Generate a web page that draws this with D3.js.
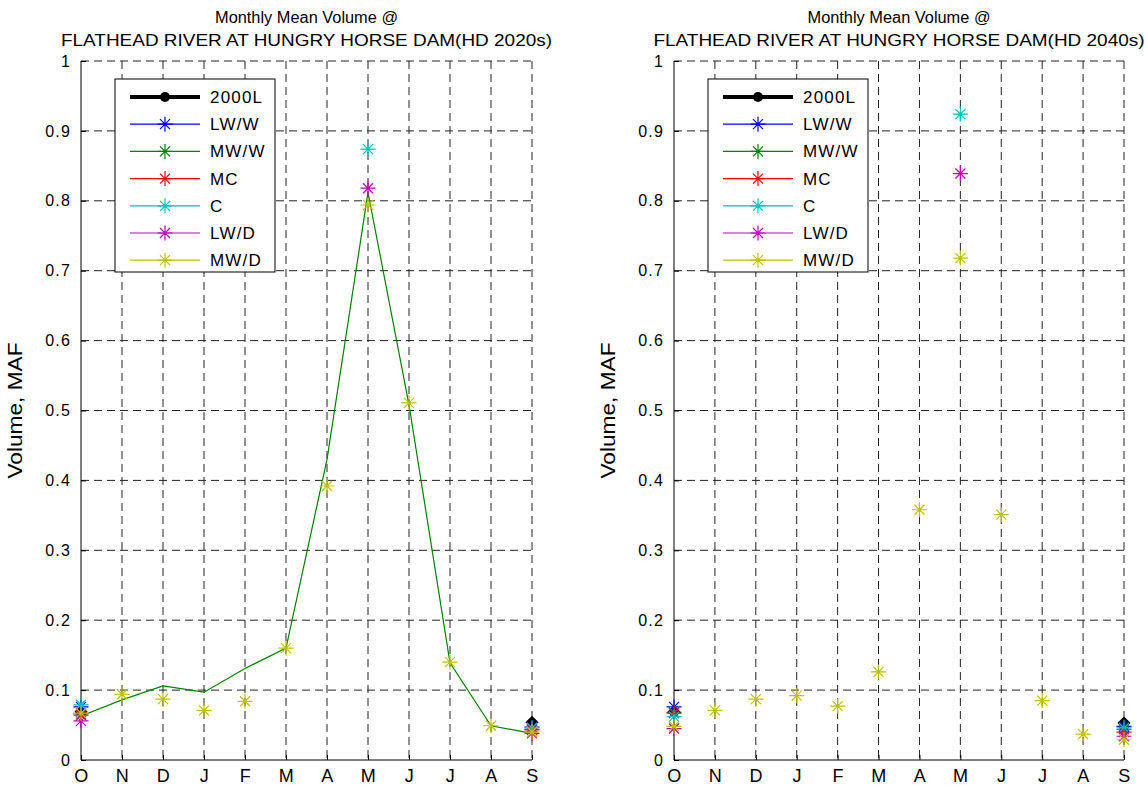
<!DOCTYPE html>
<html>
<head>
<meta charset="utf-8">
<script src="https://cdn.jsdelivr.net/npm/d3@7"></script>
<style>
  html, body { margin: 0; padding: 0; background: #fff; }
  svg { display: block; font-family: "Liberation Sans", Arial, sans-serif; }
</style>
</head>
<body>
<svg id="chart" width="1146" height="786"></svg>
<script>
// ---------------- DATA ----------------
const months = ["O","N","D","J","F","M","A","M","J","J","A","S"];
const seriesNames = ["2000L","LW/W","MW/W","MC","C","LW/D","MW/D"];
const seriesColors = ["#000000","#0000ff","#008000","#ff0000","#00bfbf","#bf00bf","#bfbf00"];
const yTicks = [0,0.1,0.2,0.3,0.4,0.5,0.6,0.7,0.8,0.9,1];

const titles2020 = ["Monthly Mean Volume @", "FLATHEAD RIVER AT HUNGRY HORSE DAM(HD 2020s)"];
const titles2040 = ["Monthly Mean Volume @", "FLATHEAD RIVER AT HUNGRY HORSE DAM(HD 2040s)"];

// HD 2020s (null = not plotted)
const base2020 = [0.069,null,null,null,null,null,null,null,null,null,null,0.054];
const lww2020  = [0.076,null,null,null,null,null,null,null,null,null,null,0.047];
const mww2020  = [0.066,null,null,null,null,null,null,null,null,null,null,0.044];
const mc2020   = [0.064,null,null,null,null,null,null,null,null,null,null,0.043];
const c2020    = [0.079,null,null,null,null,null,null,0.874,null,null,null,0.046];
const lwd2020  = [0.056,null,null,null,null,null,null,0.818,null,null,null,0.038];
const mwd2020  = [0.067,0.094,0.087,0.071,0.084,0.160,0.392,0.794,0.511,0.140,0.049,0.040];
const mwwLine2020 = [0.063,0.086,0.106,0.097,0.131,0.160,0.430,0.812,0.508,0.139,0.049,0.038];

// HD 2040s
const base2040 = [0.069,null,null,null,null,null,null,null,null,null,null,0.053];
const lww2040  = [0.076,null,null,null,null,null,null,null,null,null,null,0.048];
const mww2040  = [0.068,null,null,null,null,null,null,null,null,null,null,0.044];
const mc2040   = [0.067,null,null,null,null,null,null,null,null,null,null,0.040];
const c2040    = [0.062,null,null,null,null,null,null,0.924,null,null,null,0.046];
const lwd2040  = [0.045,null,null,null,null,null,null,0.839,null,null,null,0.034];
const mwd2040  = [0.048,0.071,0.087,0.092,0.077,0.126,0.358,0.718,0.351,0.085,0.037,0.029];

// ---------------- DRAW ----------------
const svg = d3.select("#chart");
const FONT = "Liberation Sans, Arial, sans-serif";

function star(g, cx, cy, color) {
  const a = 7.5, b = 5;
  const p = `M${cx-a},${cy}H${cx+a}M${cx},${cy-a}V${cy+a}` +
            `M${cx-b},${cy-b}L${cx+b},${cy+b}M${cx-b},${cy+b}L${cx+b},${cy-b}`;
  g.append("path").attr("d", p).attr("stroke", color).attr("stroke-width", 1.2).attr("fill", "none");
}
function diamond(g, cx, cy) {
  const s = 5.5;
  g.append("path").attr("d", `M${cx},${cy-s}L${cx+s},${cy}L${cx},${cy+s}L${cx-s},${cy}Z`)
    .attr("fill", "#000").attr("stroke", "#000").attr("stroke-width", 1.5);
}

function panel(x0, x1, titles, seriesData, lineData) {
  const yTop = 61, yBot = 760;
  const x = d3.scalePoint().domain(d3.range(months.length)).range([x0, x1]);
  const y = d3.scaleLinear().domain([0, 1]).range([yBot, yTop]);
  const g = svg.append("g");

  // grid
  const grid = g.append("g").attr("stroke", "#222").attr("stroke-width", 1).attr("stroke-dasharray", "8,5");
  yTicks.filter(d => d > 0).forEach(d => {
    grid.append("line").attr("x1", x0).attr("x2", x1).attr("y1", y(d)).attr("y2", y(d));
  });
  d3.range(1, months.length).forEach(i => {
    grid.append("line").attr("x1", x(i)).attr("x2", x(i)).attr("y1", yTop).attr("y2", yBot);
  });

  // axes
  const xAxis = d3.axisBottom(x).tickFormat(i => months[i]).tickSize(-5).tickPadding(9);
  const gx = g.append("g").attr("transform", `translate(0,${yBot})`).call(xAxis);
  gx.select(".domain").attr("d", `M${x0},0H${x1}`).attr("stroke", "#000");
  gx.selectAll("text").attr("font-size", 18).attr("fill", "#000").attr("font-family", FONT)
    .attr("letter-spacing", 0.5);

  const yAxis = d3.axisLeft(y).tickValues(yTicks).tickFormat(d => d3.format("~g")(+d.toFixed(1))).tickSize(-5).tickPadding(10);
  const gy = g.append("g").attr("transform", `translate(${x0},0)`).call(yAxis);
  gy.select(".domain").attr("d", `M0,${yTop}V${yBot}`).attr("stroke", "#000");
  gy.selectAll("text").attr("font-size", 16).attr("fill", "#000").attr("font-family", FONT)
    .attr("letter-spacing", 1.2);

  // y label
  g.append("text").attr("transform", `translate(${x0 - 59},${(yTop + yBot) / 2}) rotate(-90)`)
    .attr("text-anchor", "middle").attr("font-size", 21).attr("textLength", 136)
    .attr("lengthAdjust", "spacingAndGlyphs").text("Volume, MAF");

  // title
  const cx = (x0 + x1) / 2;
  g.append("text").attr("x", cx).attr("y", 23).attr("text-anchor", "middle").attr("font-size", 16)
    .attr("textLength", 183).attr("lengthAdjust", "spacingAndGlyphs").text(titles[0]);
  g.append("text").attr("x", cx).attr("y", 46).attr("text-anchor", "middle").attr("font-size", 16)
    .attr("textLength", 491).attr("lengthAdjust", "spacingAndGlyphs").text(titles[1]);

  // MW/W line
  if (lineData) {
    const line = d3.line().defined(d => d != null).x((d, i) => x(i)).y(d => y(d));
    g.append("path").datum(lineData).attr("d", line).attr("fill", "none")
      .attr("stroke", seriesColors[2]).attr("stroke-width", 1.2);
  }

  // markers
  const mg = g.append("g");
  seriesData.forEach((arr, si) => {
    arr.forEach((v, i) => {
      if (v == null) return;
      if (si === 0) diamond(mg, x(i), y(v));
      else star(mg, x(i), y(v), seriesColors[si]);
    });
  });

  // legend
  const lx = x0 + 34, ly = 79, lw = 160, lh = 193;
  const lg = g.append("g");
  lg.append("rect").attr("x", lx).attr("y", ly).attr("width", lw).attr("height", lh)
    .attr("fill", "#fff").attr("stroke", "#000").attr("stroke-width", 1);
  seriesNames.forEach((name, i) => {
    const yy = ly + 18 + i * 27.2;
    lg.append("line").attr("x1", lx + 15).attr("x2", lx + 85).attr("y1", yy).attr("y2", yy)
      .attr("stroke", seriesColors[i]).attr("stroke-width", i === 0 ? 4 : 1.2);
    if (i === 0) {
      lg.append("circle").attr("cx", lx + 50).attr("cy", yy).attr("r", 5).attr("fill", "#000");
    } else {
      star(lg, lx + 50, yy, seriesColors[i]);
    }
    lg.append("text").attr("x", lx + 95).attr("y", yy).attr("dy", "0.35em")
      .attr("font-size", 17).attr("letter-spacing", 1.2).text(name);
  });
}

panel(81, 532, titles2020, [base2020, lww2020, mww2020, mc2020, c2020, lwd2020, mwd2020], mwwLine2020);
panel(674, 1124, titles2040, [base2040, lww2040, mww2040, mc2040, c2040, lwd2040, mwd2040], null);
</script>
</body>
</html>
